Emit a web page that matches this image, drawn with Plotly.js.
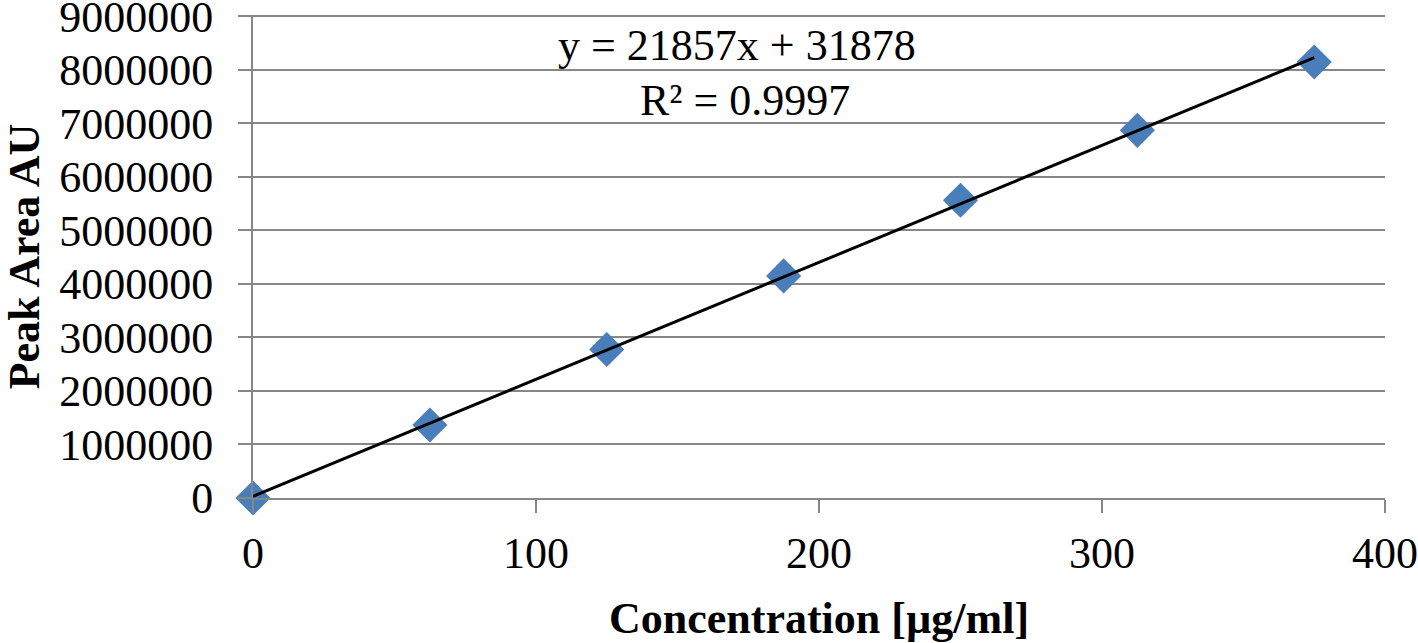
<!DOCTYPE html>
<html>
<head>
<meta charset="utf-8">
<script src="https://cdn.plot.ly/plotly-3.0.1.min.js"></script>
<style>
  html, body { margin: 0; padding: 0; background: #fff; }
  #chart { width: 1418px; height: 643px; }
</style>
</head>
<body>
<div id="chart"></div>
<script>
// calibration data
const concentration = [0, 62.5, 125, 187.5, 250, 312.5, 375];
const peakArea = [0, 1363000, 2776000, 4150000, 5564000, 6870000, 8146000];

// linear fit given on the chart
const slope = 21857;
const intercept = 31878;
const rSquared = 0.9997;

const fitX = [concentration[0], concentration[concentration.length - 1]];
const fitY = fitX.map(x => slope * x + intercept);

const serif = 'Liberation Serif, Times New Roman, serif';
const gridGray = '#878787';

const points = {
    x: concentration,
    y: peakArea,
    type: 'scatter',
    mode: 'markers',
    marker: { symbol: 'diamond', size: 27, color: '#4a7ebb', line: { width: 0 } },
    cliponaxis: false,
    hoverinfo: 'x+y'
};

const trend = {
    x: fitX,
    y: fitY,
    type: 'scatter',
    mode: 'lines',
    line: { color: '#000', width: 3 },
    cliponaxis: false,
    hoverinfo: 'skip'
};

const layout = {
    width: 1418,
    height: 643,
    margin: { l: 253, r: 33, t: 15, b: 145 },
    paper_bgcolor: '#fff',
    plot_bgcolor: '#fff',
    showlegend: false,
    font: { family: serif, color: '#000', size: 44 },
    xaxis: {
        range: [0, 400],
        dtick: 100,
        showgrid: false,
        zeroline: false,
        showline: true,
        linecolor: gridGray,
        linewidth: 2,
        ticks: 'outside',
        ticklen: 13,
        tickwidth: 2,
        tickcolor: gridGray,
        ticklabelstandoff: 2,
        tickfont: { family: serif, size: 44 },
        title: { text: '<b>Concentration [µg/ml]</b>', font: { family: serif, size: 44 }, standoff: 27 }
    },
    yaxis: {
        // a little above 9e6 so plotly keeps the top grid line
        range: [0, 9025000],
        dtick: 1000000,
        tickformat: 'd',
        ticklabeloverflow: 'allow',
        showgrid: true,
        gridcolor: gridGray,
        gridwidth: 2,
        zeroline: false,
        showline: true,
        linecolor: gridGray,
        linewidth: 2,
        ticks: 'outside',
        ticklen: 13,
        tickwidth: 2,
        tickcolor: gridGray,
        ticklabelstandoff: 16,
        tickfont: { family: serif, size: 44 },
        title: { text: '<b>Peak Area AU</b>', font: { family: serif, size: 44 }, standoff: 8 }
    },
    annotations: [
        {
            x: 171, y: 8460000, xref: 'x', yref: 'y',
            text: 'y = ' + slope + 'x + ' + intercept,
            showarrow: false, xanchor: 'center', yanchor: 'middle',
            font: { family: serif, size: 44, color: '#000' }
        },
        {
            x: 174, y: 7430000, xref: 'x', yref: 'y',
            text: 'R² = ' + rSquared,
            showarrow: false, xanchor: 'center', yanchor: 'middle',
            font: { family: serif, size: 44, color: '#000' }
        }
    ]
};

Plotly.newPlot('chart', [points, trend], layout, { displayModeBar: false, staticPlot: true });
</script>
</body>
</html>
